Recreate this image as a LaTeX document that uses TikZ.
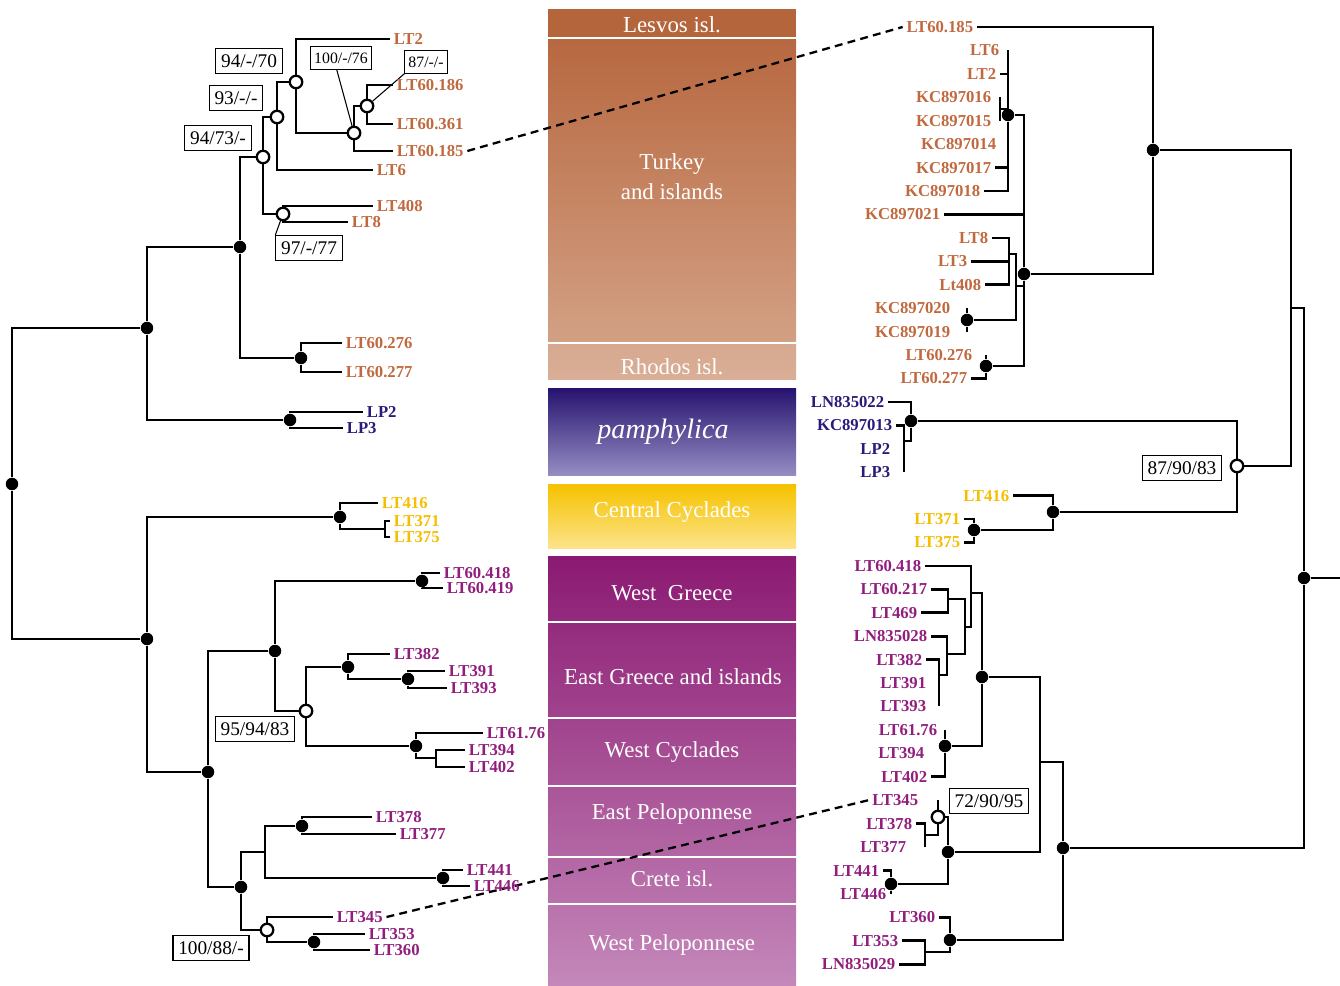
\documentclass[tikz,border=0pt]{standalone}
\usepackage{fontspec}
\setmainfont{Liberation Serif}
\usepackage{tikz}
\usetikzlibrary{backgrounds}
\definecolor{turkcol}{RGB}{192,104,62}
\definecolor{pamcol}{RGB}{43,26,120}
\definecolor{cyccol}{RGB}{245,190,0}
\definecolor{grecol}{RGB}{145,30,125}
\definecolor{lesA}{RGB}{180,101,60}
\definecolor{turkA}{RGB}{183,104,64}
\definecolor{turkB}{RGB}{211,160,132}
\definecolor{rhoA}{RGB}{214,168,143}
\definecolor{rhoB}{RGB}{218,175,151}
\definecolor{pamA}{RGB}{40,20,112}
\definecolor{pamB}{RGB}{150,142,196}
\definecolor{cycA}{RGB}{246,194,0}
\definecolor{cycB}{RGB}{252,228,140}
\definecolor{purA}{RGB}{139,26,114}
\definecolor{purB}{RGB}{196,136,186}
\tikzset{
  branch/.style={line width=1.5pt, color=black},
  fulldot/.style={circle, fill=black, inner sep=0pt, minimum size=0.25cm},
  opendot/.style={circle, draw=black, fill=white, line width=1.3pt,
    inner sep=0pt, minimum size=0.25cm},
  tiplab/.style={font=\bfseries\fontsize{9.5}{11}\selectfont,
    inner xsep=2pt, inner ysep=1pt},
  turktip/.style={tiplab, text=turkcol},
  pamtip/.style={tiplab, text=pamcol},
  cyctip/.style={tiplab, text=cyccol},
  gretip/.style={tiplab, text=grecol},
  numbox/.style={rectangle, draw=black, fill=white, line width=0.6pt,
    font=\fontsize{11}{13}\selectfont, inner xsep=3pt, minimum height=0.46cm},
  smallbox/.style={rectangle, draw=black, fill=white, line width=0.6pt,
    font=\fontsize{9}{11}\selectfont, inner xsep=2pt, minimum height=0.36cm},
  leader/.style={line width=0.6pt, color=black},
  dashlink/.style={line width=1.3pt, dash pattern=on 4.5pt off 3pt},
  areatext/.style={text=white, align=center,
    font=\fontsize{13}{17}\selectfont}
}

\begin{document}
\begin{tikzpicture}[x=0.02cm, y=-0.02cm]
  \useasboundingbox (0,0) rectangle (1340,986);

  % geographic bands
  \begin{pgfonlayer}{background}
    \fill[lesA] (548,9) rectangle (796,37);
    \shade[top color=turkA, bottom color=turkB] (548,40) rectangle (796,342);
    \shade[top color=rhoA, bottom color=rhoB] (548,345) rectangle (796,380);
    \shade[top color=pamA, bottom color=pamB] (548,389) rectangle (796,476);
    \shade[top color=cycA, bottom color=cycB] (548,485) rectangle (796,549);
    \shade[top color=purA, bottom color=purB!15!purA] (548,557) rectangle (796,621);
    \shade[top color=purB!16!purA, bottom color=purB!37!purA] (548,624) rectangle (796,716);
    \shade[top color=purB!38!purA, bottom color=purB!53!purA] (548,719) rectangle (796,784);
    \shade[top color=purB!54!purA, bottom color=purB!69!purA] (548,787) rectangle (796,855);
    \shade[top color=purB!70!purA, bottom color=purB!80!purA] (548,858) rectangle (796,902);
    \shade[top color=purB!81!purA, bottom color=purB] (548,905) rectangle (796,986);
  \end{pgfonlayer}
  \node[areatext] (gLes) at (672,25) {Lesvos isl.};
  \node[areatext] (gTurk) at (672,177) {Turkey\\and islands};
  \node[areatext] (gRho) at (672,367) {Rhodos isl.};
  \node[areatext, font=\itshape\fontsize{16}{18}\selectfont] (gPam) at (663,432) {pamphylica};
  \node[areatext] (gCC) at (672,512) {Central Cyclades};
  \node[areatext] (gWG) at (672,593) {West\ \ Greece};
  \node[areatext] (gEG) at (673,677) {East Greece and islands};
  \node[areatext] (gWC) at (672,752) {West Cyclades};
  \node[areatext] (gEP) at (672,814) {East Peloponnese};
  \node[areatext] (gCr) at (672,879) {Crete isl.};
  \node[areatext] (gWP) at (672,945) {West Peloponnese};

  % left tree: inner nodes
  \node[fulldot] (lroot) at (12,484) {};
  \node[fulldot] (la) at (147,328) {};
  \node[fulldot] (lb) at (147,639) {};
  \node[fulldot] (lturk) at (240,247) {};
  \node[fulldot] (lpam) at (290,420) {};
  \node[opendot] (lA) at (263,157) {};
  \node[fulldot] (l276) at (301,358) {};
  \node[opendot] (lB) at (277,117) {};
  \node[opendot] (lC) at (283,214) {};
  \node[opendot] (lD) at (296,82) {};
  \node[opendot] (lE) at (354,133) {};
  \node[opendot] (lF) at (367,106) {};
  \node[fulldot] (lcyc) at (340,517) {};
  \coordinate (lcyc2) at (385,529);
  \node[fulldot] (lwest) at (208,772) {};
  \node[fulldot] (lG) at (275,651) {};
  \node[fulldot] (l418) at (422,581) {};
  \node[opendot] (lH) at (306,711) {};
  \node[fulldot] (l382) at (348,667) {};
  \node[fulldot] (l391) at (408,679) {};
  \node[fulldot] (l61) at (416,746) {};
  \coordinate (l394) at (436,758);
  \node[fulldot] (lpel) at (241,887) {};
  \coordinate (lI) at (265,852);
  \node[fulldot] (l378) at (302,826) {};
  \node[fulldot] (l441) at (443,878) {};
  \node[opendot] (lJ) at (267,930) {};
  \node[fulldot] (l353) at (314,942) {};

  % left tree: tips
  \node[turktip, anchor=west] (tlLT2) at (390,39) {LT2};
  \node[turktip, anchor=west] (tlLT60186) at (393,85) {LT60.186};
  \node[turktip, anchor=west] (tlLT60361) at (393,124) {LT60.361};
  \node[turktip, anchor=west] (tlLT60185) at (393,151) {LT60.185};
  \node[turktip, anchor=west] (tlLT6) at (373,170) {LT6};
  \node[turktip, anchor=west] (tlLT408) at (373,206) {LT408};
  \node[turktip, anchor=west] (tlLT8) at (348,222) {LT8};
  \node[turktip, anchor=west] (tlLT60276) at (342,343) {LT60.276};
  \node[turktip, anchor=west] (tlLT60277) at (342,372) {LT60.277};
  \node[pamtip, anchor=west] (tlLP2) at (363,412) {LP2};
  \node[pamtip, anchor=west] (tlLP3) at (343,428) {LP3};
  \node[cyctip, anchor=west] (tlLT416) at (378,503) {LT416};
  \node[cyctip, anchor=west] (tlLT371) at (390,521) {LT371};
  \node[cyctip, anchor=west] (tlLT375) at (390,537) {LT375};
  \node[gretip, anchor=west] (tlLT60418) at (440,573) {LT60.418};
  \node[gretip, anchor=west] (tlLT60419) at (443,588) {LT60.419};
  \node[gretip, anchor=west] (tlLT382) at (390,654) {LT382};
  \node[gretip, anchor=west] (tlLT391) at (445,671) {LT391};
  \node[gretip, anchor=west] (tlLT393) at (447,688) {LT393};
  \node[gretip, anchor=west] (tlLT6176) at (483,733) {LT61.76};
  \node[gretip, anchor=west] (tlLT394) at (465,750) {LT394};
  \node[gretip, anchor=west] (tlLT402) at (465,767) {LT402};
  \node[gretip, anchor=west] (tlLT378) at (372,817) {LT378};
  \node[gretip, anchor=west] (tlLT377) at (396,834) {LT377};
  \node[gretip, anchor=west] (tlLT441) at (463,870) {LT441};
  \node[gretip, anchor=west] (tlLT446) at (470,886) {LT446};
  \node[gretip, anchor=west] (tlLT345) at (333,917) {LT345};
  \node[gretip, anchor=west] (tlLT353) at (365,934) {LT353};
  \node[gretip, anchor=west] (tlLT360) at (370,950) {LT360};

  % left tree: support values
  \node[numbox] (bA) at (218,138) {94/73/-};
  \node[numbox] (bB) at (236,98) {93/-/-};
  \node[numbox] (bC) at (309,248) {97/-/77};
  \node[numbox] (bD) at (249,61) {94/-/70};
  \node[smallbox] (bE) at (341,58) {100/-/76};
  \node[smallbox] (bF) at (426,62) {87/-/-};
  \node[numbox] (bH) at (255,729) {95/94/83};
  \node[numbox] (bJ) at (211,948) {100/88/-};

  % right tree: inner nodes
  \node[fulldot] (rroot) at (1304,578) {};
  \coordinate (rstub) at (1340,578);
  \coordinate (rU) at (1291,308);
  \node[fulldot] (rTK) at (1153,150) {};
  \node[fulldot] (rT) at (1024,274) {};
  \node[fulldot] (rT1) at (1008,115) {};
  \coordinate (rKC) at (1000,109);
  \coordinate (rS) at (1016,286);
  \coordinate (rL8) at (1009,254);
  \node[fulldot] (r020) at (967,320) {};
  \node[fulldot] (r276) at (986,366) {};
  \node[opendot] (rV) at (1237,466) {};
  \node[fulldot] (rP) at (911,421) {};
  \coordinate (rP2) at (904,441);
  \node[fulldot] (rCC) at (1053,512) {};
  \node[fulldot] (rCC2) at (974,530) {};
  \node[fulldot] (rW) at (1063,848) {};
  \coordinate (rX) at (1040,762);
  \node[fulldot] (rG) at (982,677) {};
  \coordinate (rG1) at (971,593);
  \coordinate (rG2) at (965,627);
  \coordinate (rG3) at (948,599);
  \coordinate (rG4) at (947,654);
  \coordinate (rG5) at (939,675);
  \node[fulldot] (r61) at (945,746) {};
  \node[fulldot] (rE) at (948,852) {};
  \node[opendot] (rO) at (938,817) {};
  \coordinate (rO2) at (925,835);
  \node[fulldot] (r441) at (891,884) {};
  \node[fulldot] (rY) at (950,940) {};
  \coordinate (rY2) at (925,952);

  % right tree: tips
  \node[turktip, anchor=east] (trLT60185) at (977,27.0) {LT60.185};
  \node[turktip, anchor=east] (trLT6) at (1003,50.4) {LT6};
  \node[turktip, anchor=east] (trLT2) at (1000,73.9) {LT2};
  \node[turktip, anchor=east] (trKC897016) at (995,97.3) {KC897016};
  \node[turktip, anchor=east] (trKC897015) at (995,120.7) {KC897015};
  \node[turktip, anchor=east] (trKC897014) at (1000,144.2) {KC897014};
  \node[turktip, anchor=east] (trKC897017) at (995,167.6) {KC897017};
  \node[turktip, anchor=east] (trKC897018) at (984,191.0) {KC897018};
  \node[turktip, anchor=east] (trKC897021) at (944,214.4) {KC897021};
  \node[turktip, anchor=east] (trLT8) at (992,237.9) {LT8};
  \node[turktip, anchor=east] (trLT3) at (971,261.3) {LT3};
  \node[turktip, anchor=east] (trLt408) at (985,284.7) {Lt408};
  \node[turktip, anchor=east] (trKC897020) at (954,308.2) {KC897020};
  \node[turktip, anchor=east] (trKC897019) at (954,331.6) {KC897019};
  \node[turktip, anchor=east] (trLT60276) at (976,355.0) {LT60.276};
  \node[turktip, anchor=east] (trLT60277) at (971,378.5) {LT60.277};
  \node[pamtip, anchor=east] (trLN835022) at (888,401.9) {LN835022};
  \node[pamtip, anchor=east] (trKC897013) at (896,425.3) {KC897013};
  \node[pamtip, anchor=east] (trLP2) at (894,448.7) {LP2};
  \node[pamtip, anchor=east] (trLP3) at (894,472.2) {LP3};
  \node[cyctip, anchor=east] (trLT416) at (1013,495.6) {LT416};
  \node[cyctip, anchor=east] (trLT371) at (964,519.0) {LT371};
  \node[cyctip, anchor=east] (trLT375) at (964,542.5) {LT375};
  \node[gretip, anchor=east] (trLT60418) at (925,565.9) {LT60.418};
  \node[gretip, anchor=east] (trLT60217) at (931,589.3) {LT60.217};
  \node[gretip, anchor=east] (trLT469) at (921,612.8) {LT469};
  \node[gretip, anchor=east] (trLN835028) at (931,636.2) {LN835028};
  \node[gretip, anchor=east] (trLT382) at (926,659.6) {LT382};
  \node[gretip, anchor=east] (trLT391) at (930,683.0) {LT391};
  \node[gretip, anchor=east] (trLT393) at (930,706.5) {LT393};
  \node[gretip, anchor=east] (trLT6176) at (941,729.9) {LT61.76};
  \node[gretip, anchor=east] (trLT394) at (928,753.3) {LT394};
  \node[gretip, anchor=east] (trLT402) at (931,776.8) {LT402};
  \node[gretip, anchor=east] (trLT345) at (922,800.2) {LT345};
  \node[gretip, anchor=east] (trLT378) at (916,823.6) {LT378};
  \node[gretip, anchor=east] (trLT377) at (910,847.1) {LT377};
  \node[gretip, anchor=east] (trLT441) at (883,870.5) {LT441};
  \node[gretip, anchor=east] (trLT446) at (890,893.9) {LT446};
  \node[gretip, anchor=east] (trLT360) at (939,917.3) {LT360};
  \node[gretip, anchor=east] (trLT353) at (902,940.8) {LT353};
  \node[gretip, anchor=east] (trLN835029) at (899,964.2) {LN835029};

  % right tree: support values
  \node[numbox] (bV) at (1182,468) {87/90/83};
  \node[numbox] (bO) at (989,801) {72/90/95};

  \begin{pgfonlayer}{background}
    % left tree branches
    \draw[branch] (lroot) |- (la);
    \draw[branch] (lroot) |- (lb);
    \draw[branch] (la) |- (lturk);
    \draw[branch] (la) |- (lpam);
    \draw[branch] (lturk) |- (lA);
    \draw[branch] (lturk) |- (l276);
    \draw[branch] (lA) |- (lB);
    \draw[branch] (lA) |- (lC);
    \draw[branch] (lB) |- (lD);
    \draw[branch] (lB) |- (tlLT6.west);
    \draw[branch] (lD) |- (tlLT2.west);
    \draw[branch] (lD) |- (lE);
    \draw[branch] (lE) |- (lF);
    \draw[branch] (lE) |- (tlLT60185.west);
    \draw[branch] (lF) |- (tlLT60186.west);
    \draw[branch] (lF) |- (tlLT60361.west);
    \draw[branch] (lC) |- (tlLT408.west);
    \draw[branch] (lC) |- (tlLT8.west);
    \draw[branch] (l276) |- (tlLT60276.west);
    \draw[branch] (l276) |- (tlLT60277.west);
    \draw[branch] (lpam) |- (tlLP2.west);
    \draw[branch] (lpam) |- (tlLP3.west);
    \draw[branch] (lb) |- (lcyc);
    \draw[branch] (lb) |- (lwest);
    \draw[branch] (lcyc) |- (tlLT416.west);
    \draw[branch] (lcyc) |- (lcyc2);
    \draw[branch] (lcyc2) |- (tlLT371.west);
    \draw[branch] (lcyc2) |- (tlLT375.west);
    \draw[branch] (lwest) |- (lG);
    \draw[branch] (lwest) |- (lpel);
    \draw[branch] (lG) |- (l418);
    \draw[branch] (lG) |- (lH);
    \draw[branch] (l418) |- (tlLT60418.west);
    \draw[branch] (l418) |- (tlLT60419.west);
    \draw[branch] (lH) |- (l382);
    \draw[branch] (lH) |- (l61);
    \draw[branch] (l382) |- (tlLT382.west);
    \draw[branch] (l382) |- (l391);
    \draw[branch] (l391) |- (tlLT391.west);
    \draw[branch] (l391) |- (tlLT393.west);
    \draw[branch] (l61) |- (tlLT6176.west);
    \draw[branch] (l61) |- (l394);
    \draw[branch] (l394) |- (tlLT394.west);
    \draw[branch] (l394) |- (tlLT402.west);
    \draw[branch] (lpel) |- (lI);
    \draw[branch] (lpel) |- (lJ);
    \draw[branch] (lI) |- (l378);
    \draw[branch] (lI) |- (l441);
    \draw[branch] (l378) |- (tlLT378.west);
    \draw[branch] (l378) |- (tlLT377.west);
    \draw[branch] (l441) |- (tlLT441.west);
    \draw[branch] (l441) |- (tlLT446.west);
    \draw[branch] (lJ) |- (tlLT345.west);
    \draw[branch] (lJ) |- (l353);
    \draw[branch] (l353) |- (tlLT353.west);
    \draw[branch] (l353) |- (tlLT360.west);
    \draw[leader] (bE.250) -- (lE);
    \draw[leader] (bF.south west) -- (lF);
    \draw[leader] (bC.north west) -- (lC);

    % right tree branches
    \draw[branch] (rroot) -- (rstub);
    \draw[branch] (rroot) |- (rU);
    \draw[branch] (rroot) |- (rW);
    \draw[branch] (rU) |- (rTK);
    \draw[branch] (rU) |- (rV);
    \draw[branch] (rTK) |- (trLT60185.east);
    \draw[branch] (rTK) |- (rT);
    \draw[branch] (rT) |- (rT1);
    \draw[branch] (rT) |- (trKC897021.east);
    \draw[branch] (rT) |- (rS);
    \draw[branch] (rT) |- (r276);
    \draw[branch] (rT1) -- (rT1 |- trLT6.east);
    \draw[branch] (rT1) |- (trLT2.east);
    \draw[branch] (rT1) |- (rKC);
    \draw[branch] (rT1) |- (trKC897017.east);
    \draw[branch] (rT1) |- (trKC897018.east);
    \draw[branch] (rKC) -- (rKC |- trKC897016.east);
    \draw[branch] (rKC) -- (rKC |- trKC897015.east);
    \draw[branch] (rS) |- (rL8);
    \draw[branch] (rS) |- (r020);
    \draw[branch] (rL8) |- (trLT8.east);
    \draw[branch] (rL8) |- (trLT3.east);
    \draw[branch] (rL8) |- (trLt408.east);
    \draw[branch] (r020) -- (r020 |- trKC897020.east);
    \draw[branch] (r020) -- (r020 |- trKC897019.east);
    \draw[branch] (r276) -- (r276 |- trLT60276.east);
    \draw[branch] (r276) |- (trLT60277.east);
    \draw[branch] (rV) |- (rP);
    \draw[branch] (rV) |- (rCC);
    \draw[branch] (rP) |- (trLN835022.east);
    \draw[branch] (rP) |- (rP2);
    \draw[branch] (rP2) |- (trKC897013.east);
    \draw[branch] (rP2) -- (rP2 |- trLP3.east);
    \draw[branch] (rCC) |- (trLT416.east);
    \draw[branch] (rCC) |- (rCC2);
    \draw[branch] (rCC2) |- (trLT371.east);
    \draw[branch] (rCC2) |- (trLT375.east);
    \draw[branch] (rW) |- (rX);
    \draw[branch] (rW) |- (rY);
    \draw[branch] (rX) |- (rG);
    \draw[branch] (rX) |- (rE);
    \draw[branch] (rG) |- (rG1);
    \draw[branch] (rG) |- (r61);
    \draw[branch] (rG1) |- (trLT60418.east);
    \draw[branch] (rG1) |- (rG2);
    \draw[branch] (rG2) |- (rG3);
    \draw[branch] (rG2) |- (rG4);
    \draw[branch] (rG3) |- (trLT60217.east);
    \draw[branch] (rG3) |- (trLT469.east);
    \draw[branch] (rG4) |- (trLN835028.east);
    \draw[branch] (rG4) |- (rG5);
    \draw[branch] (rG5) |- (trLT382.east);
    \draw[branch] (rG5) -- (rG5 |- trLT393.east);
    \draw[branch] (r61) -- (r61 |- trLT6176.east);
    \draw[branch] (r61) |- (trLT402.east);
    \draw[branch] (rE) |- (rO);
    \draw[branch] (rE) |- (r441);
    \draw[branch] (rO) -- (rO |- trLT345.east);
    \draw[branch] (rO) |- (rO2);
    \draw[branch] (rO2) |- (trLT378.east);
    \draw[branch] (rO2) -- (rO2 |- trLT377.east);
    \draw[branch] (r441) |- (trLT441.east);
    \draw[branch] (r441) -- (r441 |- trLT446.east);
    \draw[branch] (rY) |- (trLT360.east);
    \draw[branch] (rY) |- (rY2);
    \draw[branch] (rY2) |- (trLT353.east);
    \draw[branch] (rY2) |- (trLN835029.east);

    % links between the two trees
    \draw[dashlink] (tlLT60185.east) -- (trLT60185.west);
    \draw[dashlink] (tlLT345.east) -- (trLT345.west);
  \end{pgfonlayer}
\end{tikzpicture}
\end{document}
